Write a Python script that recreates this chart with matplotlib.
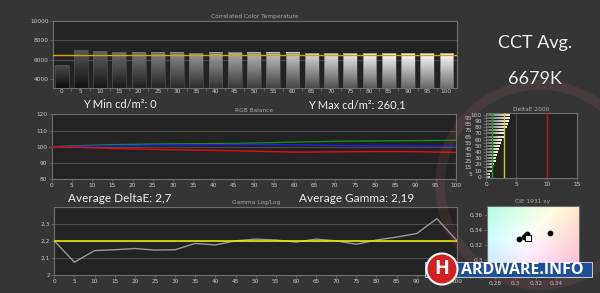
import numpy as np
import matplotlib
matplotlib.use("Agg")
from matplotlib import pyplot as plt
from matplotlib.patches import Ellipse, Rectangle

# grey steps (% stimulus) measured in all three sweep charts
steps = list(range(0, 105, 5))

# correlated colour temperature per step (K)
cct = [5450, 6990, 6860, 6760, 6720, 6690, 6690, 6680, 6720, 6740, 6720,
       6710, 6710, 6640, 6640, 6650, 6640, 6640, 6640, 6650, 6650]
cct_target = 6504

# RGB balance (%)
rgb_red = [100, 99.8, 99.4, 99.0, 98.7, 98.4, 98.2, 98.0, 97.8, 97.6, 97.3,
           97.0, 96.8, 96.8, 96.9, 97.0, 97.1, 97.1, 97.0, 96.8, 96.6]
rgb_green = [100, 100.6, 101.0, 101.3, 101.5, 101.7, 101.8, 101.9, 102.0, 102.1, 102.3,
             102.6, 102.9, 103.1, 103.4, 103.5, 103.6, 103.7, 103.8, 103.9, 104.0]
rgb_blue = [100, 100.2, 100.4, 100.6, 100.8, 101.0, 101.1, 101.2, 101.3, 101.4, 101.5,
            101.4, 101.2, 101.0, 100.8, 100.7, 100.6, 100.6, 100.5, 100.5, 100.4]

# gamma (log/log) per step
gamma = [2.20, 2.075, 2.143, 2.148, 2.155, 2.146, 2.148, 2.185, 2.176, 2.20, 2.21,
         2.205, 2.193, 2.21, 2.20, 2.18, 2.205, 2.222, 2.243, 2.33, 2.20]
gamma_target = 2.2

# DeltaE 2000 per step
delta_e = [0.5, 0.6, 0.9, 1.1, 1.3, 1.5, 1.6, 1.8, 1.9, 2.1, 2.3,
           2.4, 2.6, 2.8, 2.9, 3.1, 3.3, 3.5, 3.7, 3.8, 3.9]
de_limits = [1, 3, 10]

# CIE 1931 xy points
cie_x = [0.3032, 0.3337, 0.3085, 0.3100, 0.3112]
cie_y = [0.3277, 0.3355, 0.3300, 0.3330, 0.3345]
white_x, white_y = 0.3127, 0.3290

FIG_BG = "#353535"
AX_BG = "#232323"
SPINE = "#6e6e6e"
TXT = "#c8c8c8"
GRID = "#4a4a4a"

fig = plt.figure(figsize=(6, 2.93), dpi=100, facecolor=FIG_BG)


def style_axes(ax, title):
    ax.set_facecolor(AX_BG)
    for s in ax.spines.values():
        s.set_color(SPINE)
        s.set_linewidth(0.8)
    ax.tick_params(colors=SPINE, labelcolor=TXT, labelsize=4.2, length=2, width=0.5, pad=1)
    ax.set_title(title, color="#a8a8a8", fontsize=4.2, pad=2)


# --- CCT bars ---
ax1 = fig.add_axes([0.0883, 0.6997, 0.6734, 0.2297])
style_axes(ax1, "Correlated Color Temperature")
ymin_cct = 3100
idx = np.arange(len(steps))
for i, v in enumerate(cct):
    level = 0.10 + 0.85 * i / 20
    top = min(level + 0.2, 1.0)
    bot = level * 0.45
    grad = np.linspace(bot, top, 64).reshape(-1, 1)
    img = np.dstack([grad, grad, grad])
    ax1.imshow(img, extent=(i - 0.36, i + 0.36, ymin_cct, v), origin="lower",
               aspect="auto", zorder=2, interpolation="bilinear")
    ax1.add_patch(Rectangle((i - 0.36, ymin_cct), 0.72, v - ymin_cct, fill=False,
                            ec="#5a5a5a", lw=0.4, zorder=3))
ax1.axhline(cct_target, color="#d4a11a", lw=1.0, zorder=4)
for g in [6000, 8000]:
    ax1.axhline(g, color=GRID, lw=0.8, zorder=1)
ax1.set_xlim(-0.45, 20.55)
ax1.set_ylim(ymin_cct, 10000)
ax1.set_yticks([4000, 6000, 8000, 10000])
ax1.set_xticks(idx)
ax1.set_xticklabels([str(s) for s in steps])
ax1.set_xticks(idx[:-1] + 0.5, minor=True)
ax1.tick_params(axis="x", which="major", length=0)
ax1.tick_params(axis="x", which="minor", length=2, color=SPINE)

# --- RGB balance ---
ax2 = fig.add_axes([0.0862, 0.388, 0.6738, 0.2219])
style_axes(ax2, "RGB Balance")
for g in [90, 100, 110]:
    ax2.axhline(g, color=GRID, lw=0.8, zorder=1)
ax2.plot(steps, rgb_green, color="#1a8a1a", lw=1.0, zorder=3)
ax2.plot(steps, rgb_blue, color="#2020e0", lw=1.0, zorder=3)
ax2.plot(steps, rgb_red, color="#e01010", lw=1.0, zorder=3)
ax2.set_xlim(0, 100)
ax2.set_ylim(80, 120)
ax2.set_xticks(steps)
ax2.set_yticks([80, 90, 100, 110, 120])

# --- Gamma ---
ax3 = fig.add_axes([0.0905, 0.0614, 0.6712, 0.2331])
style_axes(ax3, "Gamma Log/Log")
for g in [2.1, 2.2, 2.3]:
    ax3.axhline(g, color=GRID, lw=0.8, zorder=1)
ax3.plot(steps, gamma, color="#999999", lw=1.0, zorder=3)
ax3.axhline(gamma_target, color="#e8e800", lw=1.2, zorder=4)
ax3.set_xlim(0, 100)
ax3.set_ylim(2.0, 2.4)
ax3.set_xticks(steps)
ax3.set_yticks([2.0, 2.1, 2.2, 2.3])
ax3.set_yticklabels(["2", "2,1", "2,2", "2,3"])

# --- DeltaE 2000 ---
ax4 = fig.add_axes([0.81, 0.3915, 0.152, 0.2218])
style_axes(ax4, "DeltaE 2000")
for i, v in enumerate(delta_e):
    grad = np.linspace(0.35, 1.0, 64).reshape(1, -1)
    img = np.dstack([grad, grad, grad])
    ax4.imshow(img, extent=(0, v, i - 0.32, i + 0.32), origin="lower",
               aspect="auto", zorder=2, interpolation="bilinear")
for g in [5, 10, 15]:
    ax4.axvline(g, color=GRID, lw=0.8, zorder=1)
for lim, c in zip(de_limits, ["#1c9a1c", "#d8c800", "#b01818"]):
    ax4.axvline(lim, color=c, lw=1.0, zorder=3)
ax4.set_xlim(0, 15)
ax4.set_ylim(-0.5, 20.5)
ax4.set_xticks([0, 5, 10, 15])
ax4.set_yticks(idx[::2])
ax4.set_yticklabels([str(s) for s in steps[::2]])
ax4.set_yticks(idx[1::2], minor=True)
ax4.set_yticklabels([str(s) for s in steps[1::2]], minor=True)
ax4.tick_params(axis="y", which="minor", labelsize=4.2, labelcolor=TXT, color=SPINE, length=2, pad=8)
ax4.tick_params(axis="y", which="major", pad=1)

# --- CIE 1931 xy ---
ax5 = fig.add_axes([0.8112, 0.0546, 0.1538, 0.2423])
style_axes(ax5, "CIE 1931 xy")
xl, yl = (0.272, 0.362), (0.277, 0.372)
gx, gy = np.meshgrid(np.linspace(*xl, 120), np.linspace(*yl, 120))
X = gx / gy
Z = (1 - gx - gy) / gy
Y = np.ones_like(gx)
M = np.array([[3.2406, -1.5372, -0.4986],
              [-0.9689, 1.8758, 0.0415],
              [0.0557, -0.2040, 1.0570]])
lin = np.einsum("ij,jkl->kli", M, np.stack([X, Y, Z]))
lin = np.clip(lin, 0, None)
lin = lin / lin.max(axis=2, keepdims=True)
rgb = np.where(lin <= 0.0031308, 12.92 * lin, 1.055 * lin ** (1 / 2.4) - 0.055)
rgb = 0.75 * np.clip(rgb, 0, 1) + 0.25
ax5.imshow(rgb, extent=(*xl, *yl), origin="lower", aspect="auto", zorder=1)
ax5.scatter(cie_x, cie_y, s=10, color="black", zorder=3)
ax5.scatter([white_x], [white_y], s=22, marker="s", facecolor="white", edgecolor="black",
            lw=0.7, zorder=4)
ax5.set_xlim(*xl)
ax5.set_ylim(*yl)
ax5.set_xticks([0.28, 0.30, 0.32, 0.34])
ax5.set_xticklabels(["0,28", "0,3", "0,32", "0,34"])
ax5.set_yticks([0.30, 0.32, 0.34, 0.36])
ax5.set_yticklabels(["0,3", "0,32", "0,34", "0,36"])

# --- headline texts ---
big = dict(color="#f0f0f0", family=["Lato", "DejaVu Sans"], ha="center", va="center")
fig.text(535 / 600, 1 - 43 / 293, "CCT Avg.", fontsize=13, **big)
fig.text(535 / 600, 1 - 79 / 293, "6679K", fontsize=13, **big)
fig.text(120 / 600, 1 - 105 / 293, "Y Min cd/m²: 0", fontsize=8, **big)
fig.text(357 / 600, 1 - 105 / 293, "Y Max cd/m²: 260,1", fontsize=8, **big)
fig.text(120 / 600, 1 - 198 / 293, "Average DeltaE: 2,7", fontsize=8.5, **big)
fig.text(357 / 600, 1 - 198 / 293, "Average Gamma: 2,19", fontsize=8.5, **big)

# faint watermark ring
fig.patches.append(Ellipse((540 / 600, 1 - 185 / 293), 200 / 600, 200 / 293, fill=False,
                           ec="#b06060", lw=7, alpha=0.15, transform=fig.transFigure))

# logo
fig.patches.append(Rectangle((425 / 600, 1 - 277 / 293), 167 / 600, 15 / 293,
                             fc="#1d4f9a", ec="#dddddd", lw=0.6, transform=fig.transFigure,
                             zorder=5))
fig.patches.append(Ellipse((442 / 600, 1 - 269 / 293), 31 / 600, 31 / 293, fc="#d42020",
                           ec="white", lw=1.5, transform=fig.transFigure, zorder=6))
fig.text(442 / 600, 1 - 269 / 293, "H", color="white", fontsize=14, fontweight="bold",
         ha="center", va="center", family=["Open Sans", "DejaVu Sans"], zorder=7)
fig.text(522 / 600, 1 - 269.5 / 293, "ARDWARE.INFO", color="white", fontsize=11.5,
         fontweight="bold", ha="center", va="center", family=["Open Sans", "DejaVu Sans"],
         zorder=7)

fig.savefig("out.png", dpi=100, facecolor=FIG_BG)
